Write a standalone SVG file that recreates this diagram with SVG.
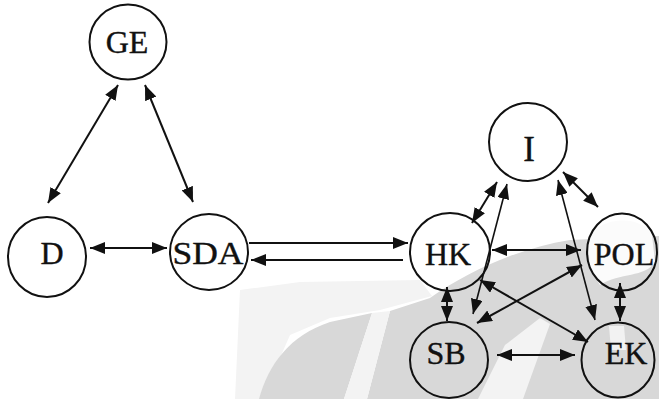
<svg xmlns="http://www.w3.org/2000/svg" width="659" height="399" viewBox="0 0 659 399">
<defs>
<marker id="ah" markerUnits="userSpaceOnUse" markerWidth="15" markerHeight="12" refX="15" refY="6" orient="auto-start-reverse" viewBox="0 0 15 12">
<path d="M0,0 L15,6 L0,12 Z" fill="#111"/>
</marker>
</defs>
<style>
.n{fill:none;stroke:#111;stroke-width:2}
.t{font-family:"Liberation Serif","Times New Roman",serif;font-size:32px;fill:#111;stroke:#111;stroke-width:0.4;text-anchor:middle}
.c{stroke:#111;stroke-width:2;fill:none}
.thin{stroke-width:1.6}
.b{marker-start:url(#ah);marker-end:url(#ah)}
.e{marker-end:url(#ah)}
.wm{fill:#d8d8d8}
.wl{fill:#f3f3f3}
</style>
<rect width="659" height="399" fill="#fff"/>
<g id="watermark">
<path class="wl" d="M235,399 L240,290 L300,282 L420,280 L432,296 L380,310 L330,318 L290,335 L262,399 Z"/>
<path class="wm" d="M259,399 C268,365 290,335 330,322 L372,313 L344,399 Z"/>
<path class="wm" d="M367,399 L390,311 L430,298 C470,270 520,248 570,240 L659,236 L659,399 Z"/>
<path class="wl" d="M344,399 L372,313 L390,311 L367,399 Z"/>
<path class="wl" d="M478,399 L505,345 L540,318 L550,324 L523,399 Z"/>
<path fill="#fbfbfb" d="M588,240 C595,218 640,212 652,235 L655,262 C645,278 620,272 600,285 L590,270 Z"/>
<path fill="#f2f2f2" d="M609,326 L624,326 L626,350 L611,350 Z"/>
</g>
<g id="connectors">
<line class="c b" x1="118" y1="85" x2="48" y2="203"/>
<line class="c b" x1="145" y1="85" x2="193" y2="202"/>
<line class="c b" x1="90" y1="248" x2="167" y2="248"/>
<line class="c e" x1="249" y1="243" x2="408" y2="243"/>
<line class="c e" x1="403" y1="260" x2="251" y2="260"/>
<line class="c b" x1="472" y1="223" x2="497" y2="182"/>
<line class="c thin b" x1="507" y1="184" x2="473" y2="314"/>
<line class="c b" x1="563" y1="172" x2="598" y2="207"/>
<line class="c thin b" x1="558" y1="180" x2="595" y2="320"/>
<line class="c b" x1="492" y1="250" x2="581" y2="250"/>
<line class="c b" x1="447" y1="287" x2="447" y2="321"/>
<line class="c b" x1="582" y1="265" x2="477" y2="323"/>
<line class="c b" x1="480" y1="280" x2="588" y2="342"/>
<line class="c b" x1="620" y1="283" x2="620" y2="321"/>
<line class="c b" x1="497" y1="355" x2="575" y2="355"/>
</g>
<g id="GE"><ellipse class="n" cx="128" cy="42" rx="38.5" ry="37.5"/><text class="t" x="127" y="53">GE</text></g>
<g id="D"><ellipse class="n" cx="47" cy="257" rx="39" ry="40"/><text class="t" x="52" y="264">D</text></g>
<g id="SDA"><ellipse class="n" cx="209" cy="252" rx="39" ry="38"/><text class="t" x="208" y="264" textLength="71" lengthAdjust="spacingAndGlyphs">SDA</text></g>
<g id="HK"><ellipse class="n" cx="450" cy="252" rx="40" ry="39"/><text class="t" x="448" y="265">HK</text></g>
<g id="I"><ellipse class="n" cx="528" cy="142" rx="39" ry="39"/><text class="t" x="529" y="161" style="font-size:35px">I</text></g>
<g id="POL"><ellipse class="n" cx="622" cy="252" rx="35" ry="38.5"/><text class="t" x="624" y="265">POL</text></g>
<g id="SB"><ellipse class="n" cx="449" cy="360" rx="39" ry="38"/><text class="t" x="446" y="364">SB</text></g>
<g id="EK"><ellipse class="n" cx="618" cy="360" rx="36.5" ry="37.5"/><text class="t" x="626" y="364">EK</text></g>
</svg>
